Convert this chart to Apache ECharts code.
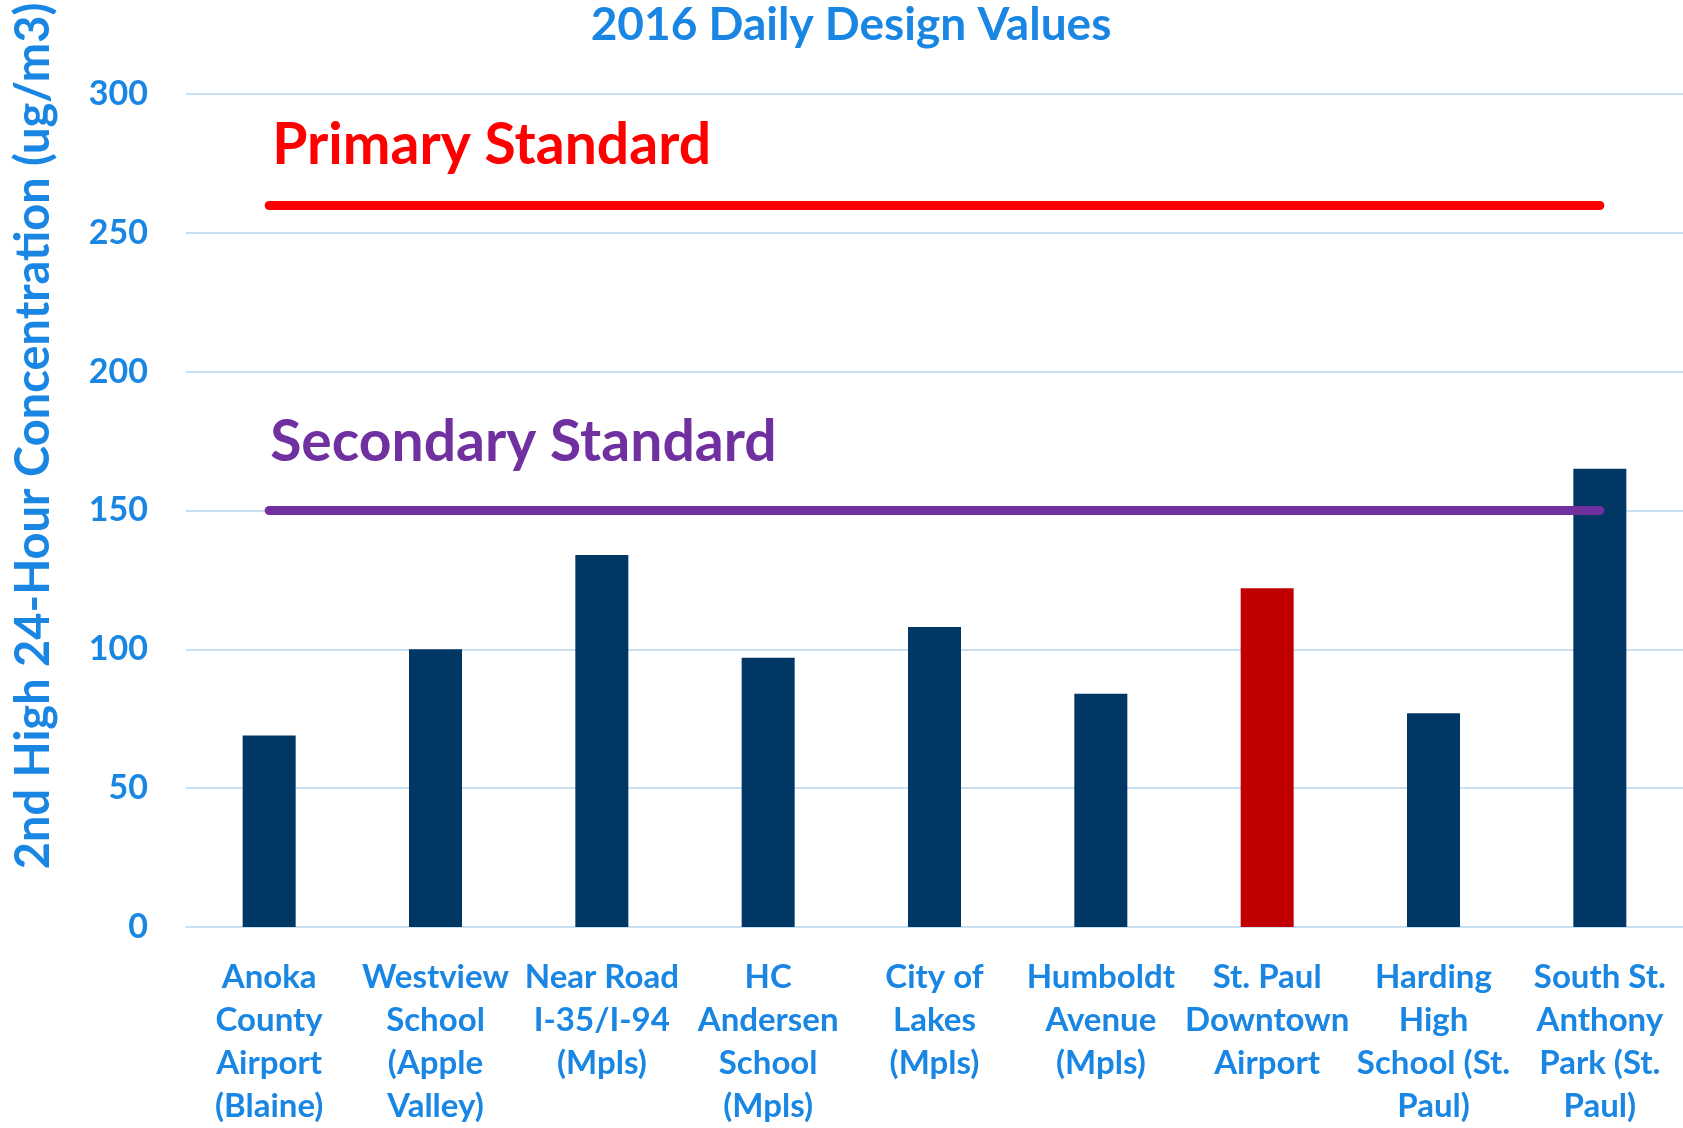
<!DOCTYPE html>
<html><head><meta charset="utf-8">
<script src="https://cdn.jsdelivr.net/npm/echarts@6/dist/echarts.min.js"></script>
<style>html,body{margin:0;padding:0;background:#fff}#c{width:1683px;height:1128px}</style>
</head><body><div id="c"></div>
<script>
// ---- data ----
const titleText = '2016 Daily Design Values';
const yAxisTitle = '2nd High 24-Hour Concentration (ug/m3)';
const categories = [
  'Anoka\nCounty\nAirport\n(Blaine)',
  'Westview\nSchool\n(Apple\nValley)',
  'Near Road\nI-35/I-94\n(Mpls)',
  'HC\nAndersen\nSchool\n(Mpls)',
  'City of\nLakes\n(Mpls)',
  'Humboldt\nAvenue\n(Mpls)',
  'St. Paul\nDowntown\nAirport',
  'Harding\nHigh\nSchool (St.\nPaul)',
  'South St.\nAnthony\nPark (St.\nPaul)'
];
const values = [69, 100, 134, 97, 108, 84, 122, 77, 165];
const highlightedSite = 'St. Paul\nDowntown\nAirport';
const standardNames = ['Primary Standard', 'Secondary Standard'];
const standardValues = [260, 150];
const yMin = 0, yMax = 300, yInterval = 50;

// ---- styles ----
const BLUE = '#1A86E3';
const NAVY = '#003764';
const RED_BAR = '#C00000';
const GRID = '#C9E0F3';
const FONT = 'Lato';
const standardColors = ['#FF0000', '#7030A0'];
const standardLabelDist = [[3, 31], [1, 39]];

const chart = echarts.init(document.getElementById('c'), null, {renderer: 'canvas'});

const barData = values.map((v, i) => ({
  value: v,
  itemStyle: { color: categories[i] === highlightedSite ? RED_BAR : NAVY }
}));

const markLines = standardValues.map((v, i) => [
  {
    name: standardNames[i],
    coord: [0, v],
    lineStyle: { color: standardColors[i], width: 9, type: 'solid', cap: 'round' },
    label: {
      show: true, formatter: '{b}', position: 'insideStartTop',
      color: standardColors[i], fontSize: 57, fontWeight: 'bold', fontFamily: FONT,
      distance: standardLabelDist[i]
    }
  },
  { coord: [categories.length - 1, v] }
]);

chart.setOption({
  animation: false,
  backgroundColor: '#ffffff',
  title: {
    text: titleText, left: 846, top: -3, textAlign: 'center',
    textStyle: { color: BLUE, fontSize: 46, fontWeight: 'bold', fontFamily: FONT }
  },
  graphic: [{
    type: 'text', x: 34, y: 436, rotation: Math.PI / 2,
    style: {
      text: yAxisTitle, fill: BLUE, font: 'bold 47px Lato',
      align: 'center', verticalAlign: 'middle'
    }
  }],
  grid: { left: 186, top: 94, width: 1501, height: 837 },
  xAxis: {
    type: 'category', data: categories,
    axisTick: { show: false },
    axisLine: { show: true, lineStyle: { color: GRID, width: 2 } },
    axisLabel: {
      color: BLUE, fontSize: 33, fontWeight: 'bold', fontFamily: FONT,
      lineHeight: 43, margin: 29, interval: 0, align: 'center'
    }
  },
  yAxis: {
    type: 'value', min: yMin, max: yMax, interval: yInterval,
    axisLine: { show: false }, axisTick: { show: false },
    splitLine: { lineStyle: { color: GRID, width: 2 } },
    axisLabel: {
      color: BLUE, fontSize: 34, fontWeight: 'bold', fontFamily: FONT, margin: 38
    }
  },
  series: [{
    type: 'bar', data: barData, barWidth: 53,
    silent: true,
    markLine: {
      silent: true, symbol: ['none', 'none'],
      emphasis: { disabled: true },
      data: markLines
    }
  }]
});
</script>
</body></html>
